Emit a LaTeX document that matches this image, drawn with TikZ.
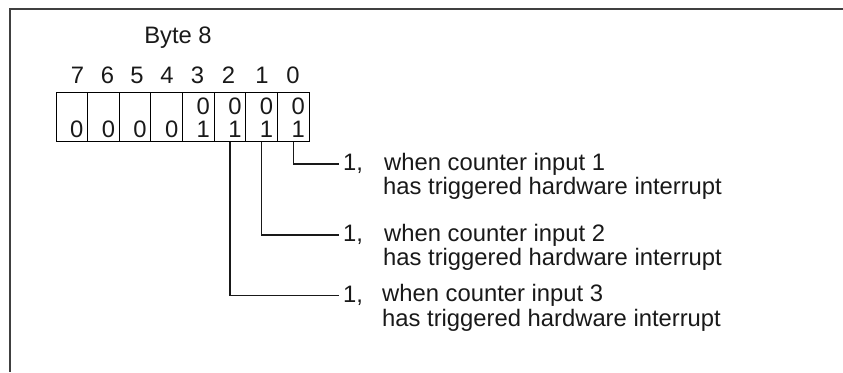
\documentclass[tikz,border=0pt]{standalone}
\usepackage{fontspec}
\setmainfont{Liberation Sans}
\begin{document}
\begin{tikzpicture}[x=1pt,y=-1pt,
  txt/.style={font=\fontsize{23.8}{28}\selectfont, inner sep=0pt, text=black!90},
  cellbox/.style={draw, line width=1.1pt, minimum width=31.625pt, minimum height=48.4pt, inner sep=0pt, anchor=north west},
  frameline/.style={line width=1.6pt, draw=black!75},
  conn/.style={line width=1.1pt, draw=black!90}]
\useasboundingbox (0,0) rectangle (843,372);
\draw[frameline] (843,9) -- (10,9) -- (10,372);
% title
\node[txt] (title) at (178,38) {Byte 8};
% cells
\foreach \b/\i in {7/0,6/1,5/2,4/3,3/4,2/5,1/6,0/7} {
  \node[cellbox] (cell\b) at ({55.5+\i*31.625},92.3) {};
}
% bit numbers
\foreach \b/\x in {7/77.5,6/107.5,5/137,4/167,3/197.5,2/228.5,1/262,0/293} {
  \node[txt] (num\b) at (\x,75) {\b};
}
% cell contents
\foreach \b in {7,6,5,4} {
  \node[txt] (low\b) at ([xshift=5pt,yshift=-12pt]cell\b.center) {0};
}
\foreach \b in {3,2,1,0} {
  \node[txt] (up\b) at ([xshift=5pt,yshift=11pt]cell\b.center) {0};
  \node[txt] (low\b) at ([xshift=5pt,yshift=-12pt]cell\b.center) {1};
}
% labels
\node[txt, anchor=west, inner xsep=4pt] (one1) at (339,164) {1,};
\node[txt, anchor=west] (w1) at (384,164) {when counter input 1};
\node[txt, anchor=west] (h1) at (383,188) {has triggered hardware interrupt};
\node[txt, anchor=west, inner xsep=4pt] (one2) at (339,235) {1,};
\node[txt, anchor=west] (w2) at (384,235) {when counter input 2};
\node[txt, anchor=west] (h2) at (383,259) {has triggered hardware interrupt};
\node[txt, anchor=west, inner xsep=4pt] (one3) at (339,295.5) {1,};
\node[txt, anchor=west] (w3) at (382,295.5) {when counter input 3};
\node[txt, anchor=west] (h3) at (382,320.5) {has triggered hardware interrupt};
% connectors
\draw[conn] (cell0.south) |- (one1.west);
\draw[conn] (cell1.south) |- (one2.west);
\draw[conn] (cell2.south) |- (one3.west);
\end{tikzpicture}
\end{document}
